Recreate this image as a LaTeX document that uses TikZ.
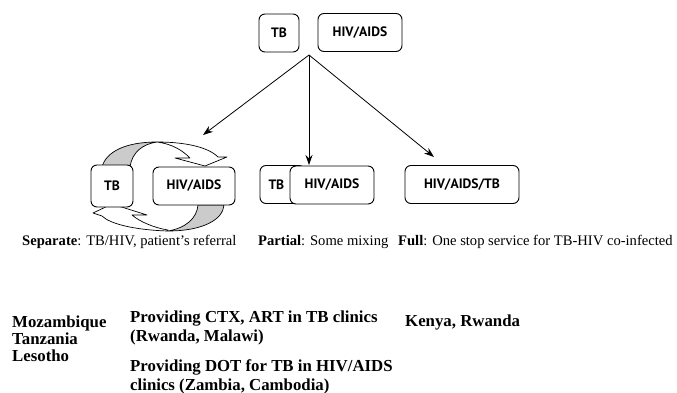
\documentclass[tikz,border=0pt]{standalone}
\usepackage{fontspec}
\setmainfont{Liberation Serif}
\newfontfamily\boxfont{PT Sans}
\usetikzlibrary{arrows.meta}
\definecolor{Ribbon}{HTML}{CBCBCB}

\tikzset{
  box/.style={draw, rounded corners=6pt, fill=white, line width=0.9pt, inner sep=0pt,
    minimum height=38pt, font=\boxfont\bfseries\fontsize{13.6}{15}\selectfont},
  link/.style={-{Stealth[length=10pt,width=7pt]}, line width=0.8pt},
  band/.style={draw, line width=0.7pt, line join=round},
  note/.style={anchor=base west, inner sep=0pt, font=\bfseries\fontsize{16.8}{17}\selectfont},
  captext/.style={anchor=base west, inner sep=0pt, font=\fontsize{14.6}{16}\selectfont}
}

\begin{document}
\begin{tikzpicture}[x=1pt,y=-1pt]
\useasboundingbox (0,0) rectangle (677,393);

% circular referral arrows
\draw [band,fill=white] (157,142) .. controls (185,142) and (208,147) .. (218,157) -- (227,157) -- (205,166) -- (175,158) -- (190,158) .. controls (182,150) and (172,144) .. (157,142) -- cycle;
\draw [band,fill=Ribbon] (102,167) .. controls (106,152) and (125,142) .. (157,142) .. controls (143,144) and (132,152) .. (130,167) -- cycle;
\draw [band,fill=white] (168,231) .. controls (135,230) and (110,224) .. (102,216) -- (93,213) -- (112,204) -- (147,215) -- (132,215) .. controls (140,222) and (155,228) .. (168,230) -- cycle;
\draw [band,fill=Ribbon] (224,205) .. controls (223,220) and (202,231) .. (168,231) .. controls (186,228) and (197,218) .. (198,205) -- cycle;

% top
\node [box,minimum width=40pt] (tbTop) at (279,33) {TB};
\node [box,minimum width=84pt] (hivTop) at (360,32.5) {HIV/AIDS};

% separate
\node [box,minimum width=42pt,minimum height=42pt] (tbSep) at (112,186) {TB};
\node [box,minimum width=82pt] (hivSep) at (194,186) {HIV/AIDS};

% partial
\node [box,minimum width=45pt,text width=36pt,align=left] (tbPart) at (282.5,184.5) {\hspace*{4pt}TB};
\node [box,minimum width=84pt] (hivPart) at (332,185) {HIV/AIDS};

% full
\node [box,minimum width=114pt] (full) at (462,184.5) {HIV/AIDS/TB};

\coordinate (fork) at (309,55);
\coordinate (sepEnd) at (203,135);
\coordinate (partEnd) at (309,165);
\coordinate (fullEnd) at (434,157);
\draw [link] (fork) -- (sepEnd);
\draw [link] (fork) -- (partEnd);
\draw [link] (fork) -- (fullEnd);

% captions
\node [captext] (capSep) at (22,245) {\textbf{Separate}: TB/HIV, patient's referral};
\node [captext] (capPart) at (258,245) {\textbf{Partial}: Some mixing};
\node [captext] (capFull) at (398,245) {\textbf{Full}: One stop service for TB-HIV co-infected};

% countries
\node [note] (moz) at (12,327) {Mozambique};
\node [note] (tan) at (12,344) {Tanzania};
\node [note] (les) at (12,361) {Lesotho};
\node [note] (ctx) at (130,322) {Providing CTX, ART in TB clinics};
\node [note] (ctx2) at (130,341) {(Rwanda, Malawi)};
\node [note] (dot) at (130,371) {Providing DOT for TB in HIV/AIDS};
\node [note] (dot2) at (130,390) {clinics (Zambia, Cambodia)};
\node [note] (ken) at (405,326) {Kenya, Rwanda};
\end{tikzpicture}
\end{document}
